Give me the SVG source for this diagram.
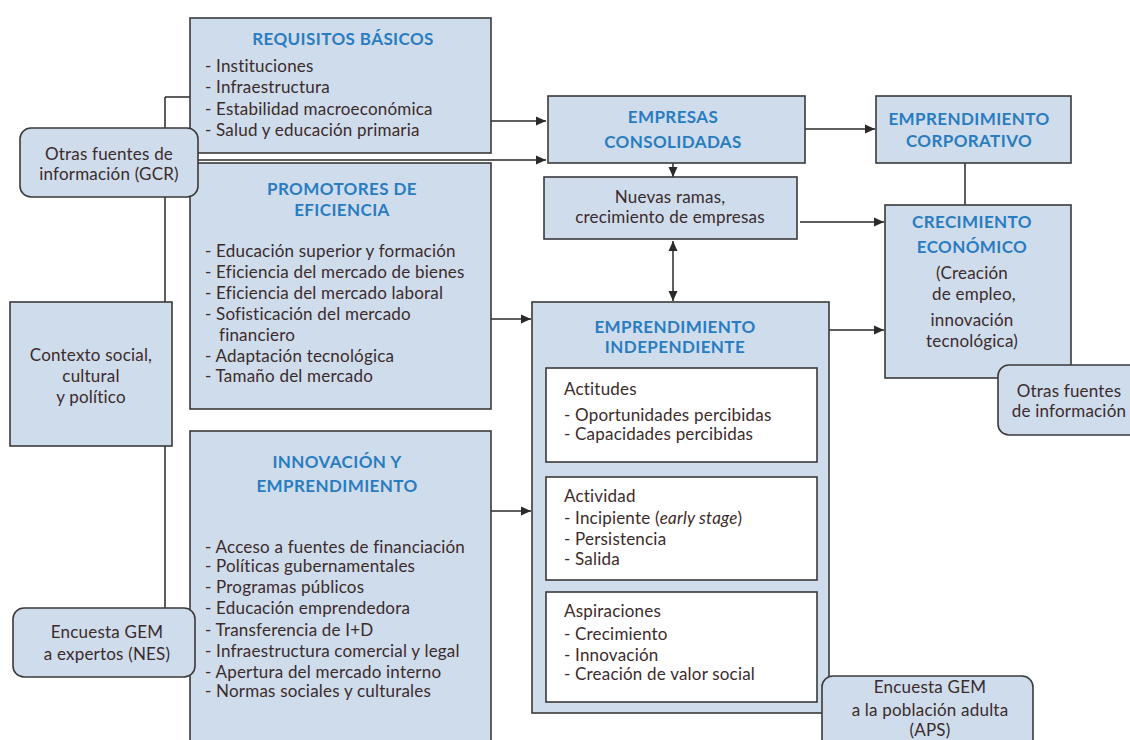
<svg xmlns="http://www.w3.org/2000/svg" width="1130" height="740" viewBox="0 0 1130 740">
<defs>
<marker id="ah" viewBox="0 0 10 10" refX="10" refY="5" markerWidth="10" markerHeight="10" markerUnits="userSpaceOnUse" orient="auto-start-reverse">
<path d="M0,0.5 L10,5 L0,9.5 z" fill="#2a2a2a"/>
</marker>
<style>
.box{fill:#cfdcec;stroke:#3a3a3a;stroke-width:1.6}
.inner{fill:#ffffff;stroke:#3a3a3a;stroke-width:1.6}
.ln{fill:none;stroke:#2a2a2a;stroke-width:1.5}
.ar{fill:none;stroke:#2a2a2a;stroke-width:1.5;marker-end:url(#ah)}
.t{font-family:Lato,"Liberation Sans",sans-serif;font-size:17px;letter-spacing:0.2px;fill:#3b2b2b}
.c{text-anchor:middle}
.h{font-family:Lato,"Liberation Sans",sans-serif;font-size:17px;letter-spacing:0.4px;font-weight:bold;fill:#2a7cc0;text-anchor:middle}
</style>
</defs>
<rect width="1130" height="740" fill="#ffffff"/>
<g id="connectors">
<path class="ln" d="M165,97 H190 M165,97 V608"/>
<path class="ar" d="M491,121 H546"/>
<path class="ar" d="M198,160 H546"/>
<path class="ar" d="M491,319 H531"/>
<path class="ar" d="M491,511 H531"/>
<path class="ar" d="M805,129 H875"/>
<path class="ar" d="M673,163 V177"/>
<path class="ar" d="M673,301 V241" style="marker-start:url(#ah)"/>
<path class="ar" d="M800,222 H884"/>
<path class="ln" d="M965,163 V205"/>
<path class="ar" d="M829,330 H884"/>
</g>
<g id="requisitos">
<rect class="box" x="190" y="18" width="301" height="135"/>
<text class="h" x="343" y="45">REQUISITOS BÁSICOS</text>
<text class="t" x="205" y="72">- Instituciones</text>
<text class="t" x="205" y="93">- Infraestructura</text>
<text class="t" x="205" y="115">- Estabilidad macroeconómica</text>
<text class="t" x="205" y="136">- Salud y educación primaria</text>
</g>
<g id="promotores">
<rect class="box" x="190" y="163" width="301" height="246"/>
<text class="h" x="342" y="195">PROMOTORES DE</text>
<text class="h" x="342" y="216">EFICIENCIA</text>
<text class="t" x="205" y="257">- Educación superior y formación</text>
<text class="t" x="205" y="278">- Eficiencia del mercado de bienes</text>
<text class="t" x="205" y="299">- Eficiencia del mercado laboral</text>
<text class="t" x="205" y="320">- Sofisticación del mercado</text>
<text class="t" x="219" y="341">financiero</text>
<text class="t" x="205" y="362">- Adaptación tecnológica</text>
<text class="t" x="205" y="382">- Tamaño del mercado</text>
</g>
<g id="innovacion">
<rect class="box" x="190" y="431" width="301" height="320"/>
<text class="h" x="337" y="468">INNOVACIÓN Y</text>
<text class="h" x="337" y="492">EMPRENDIMIENTO</text>
<text class="t" x="205" y="553">- Acceso a fuentes de financiación</text>
<text class="t" x="205" y="572">- Políticas gubernamentales</text>
<text class="t" x="205" y="593">- Programas públicos</text>
<text class="t" x="205" y="614">- Educación emprendedora</text>
<text class="t" x="205" y="636">- Transferencia de I+D</text>
<text class="t" x="205" y="657">- Infraestructura comercial y legal</text>
<text class="t" x="205" y="678">- Apertura del mercado interno</text>
<text class="t" x="205" y="697">- Normas sociales y culturales</text>
</g>
<g id="otras-gcr">
<rect class="box" x="20" y="128" width="178" height="69" rx="11"/>
<text class="t c" x="109" y="160">Otras fuentes de</text>
<text class="t c" x="109" y="180">información (GCR)</text>
</g>
<g id="contexto">
<rect class="box" x="10" y="302" width="162" height="144"/>
<text class="t c" x="91" y="361">Contexto social,</text>
<text class="t c" x="91" y="382">cultural</text>
<text class="t c" x="91" y="403">y político</text>
</g>
<g id="encuesta-nes">
<rect class="box" x="13" y="608" width="182" height="69" rx="11"/>
<text class="t c" x="107" y="638">Encuesta GEM</text>
<text class="t c" x="107" y="660">a expertos (NES)</text>
</g>
<g id="empresas">
<rect class="box" x="548" y="96" width="257" height="67"/>
<text class="h" x="673" y="123">EMPRESAS</text>
<text class="h" x="673" y="148">CONSOLIDADAS</text>
</g>
<g id="nuevas">
<rect class="box" x="544" y="177" width="253" height="62"/>
<text class="t c" x="670" y="203">Nuevas ramas,</text>
<text class="t c" x="670" y="223">crecimiento de empresas</text>
</g>
<g id="corporativo">
<rect class="box" x="876" y="96" width="195" height="67"/>
<text class="h" x="969" y="125">EMPRENDIMIENTO</text>
<text class="h" x="969" y="147">CORPORATIVO</text>
</g>
<g id="crecimiento">
<rect class="box" x="885" y="205" width="186" height="173"/>
<text class="h" x="972" y="228">CRECIMIENTO</text>
<text class="h" x="972" y="253">ECONÓMICO</text>
<text class="t c" x="972" y="279">(Creación</text>
<text class="t c" x="974" y="300">de empleo,</text>
<text class="t c" x="972" y="326">innovación</text>
<text class="t c" x="972" y="347">tecnológica)</text>
</g>
<g id="otras-info">
<rect class="box" x="998" y="365" width="150" height="70" rx="11"/>
<text class="t c" x="1069" y="397">Otras fuentes</text>
<text class="t c" x="1069" y="417">de información</text>
</g>
<g id="independiente">
<rect class="box" x="532" y="302" width="297" height="411"/>
<text class="h" x="675" y="333">EMPRENDIMIENTO</text>
<text class="h" x="675" y="353">INDEPENDIENTE</text>
<rect class="inner" x="546" y="368" width="271" height="94"/>
<text class="t" x="564" y="395">Actitudes</text>
<text class="t" x="564" y="421">- Oportunidades percibidas</text>
<text class="t" x="564" y="440">- Capacidades percibidas</text>
<rect class="inner" x="546" y="477" width="271" height="103"/>
<text class="t" x="564" y="502">Actividad</text>
<text class="t" x="564" y="524">- Incipiente (<tspan font-style="italic">early stage</tspan>)</text>
<text class="t" x="564" y="545">- Persistencia</text>
<text class="t" x="564" y="565">- Salida</text>
<rect class="inner" x="546" y="592" width="271" height="110"/>
<text class="t" x="564" y="617">Aspiraciones</text>
<text class="t" x="564" y="640">- Crecimiento</text>
<text class="t" x="564" y="661">- Innovación</text>
<text class="t" x="564" y="680">- Creación de valor social</text>
</g>
<g id="encuesta-aps">
<rect class="box" x="822" y="676" width="211" height="80" rx="11"/>
<text class="t c" x="930" y="693">Encuesta GEM</text>
<text class="t c" x="930" y="716">a la población adulta</text>
<text class="t c" x="930" y="736">(APS)</text>
</g>
</svg>
